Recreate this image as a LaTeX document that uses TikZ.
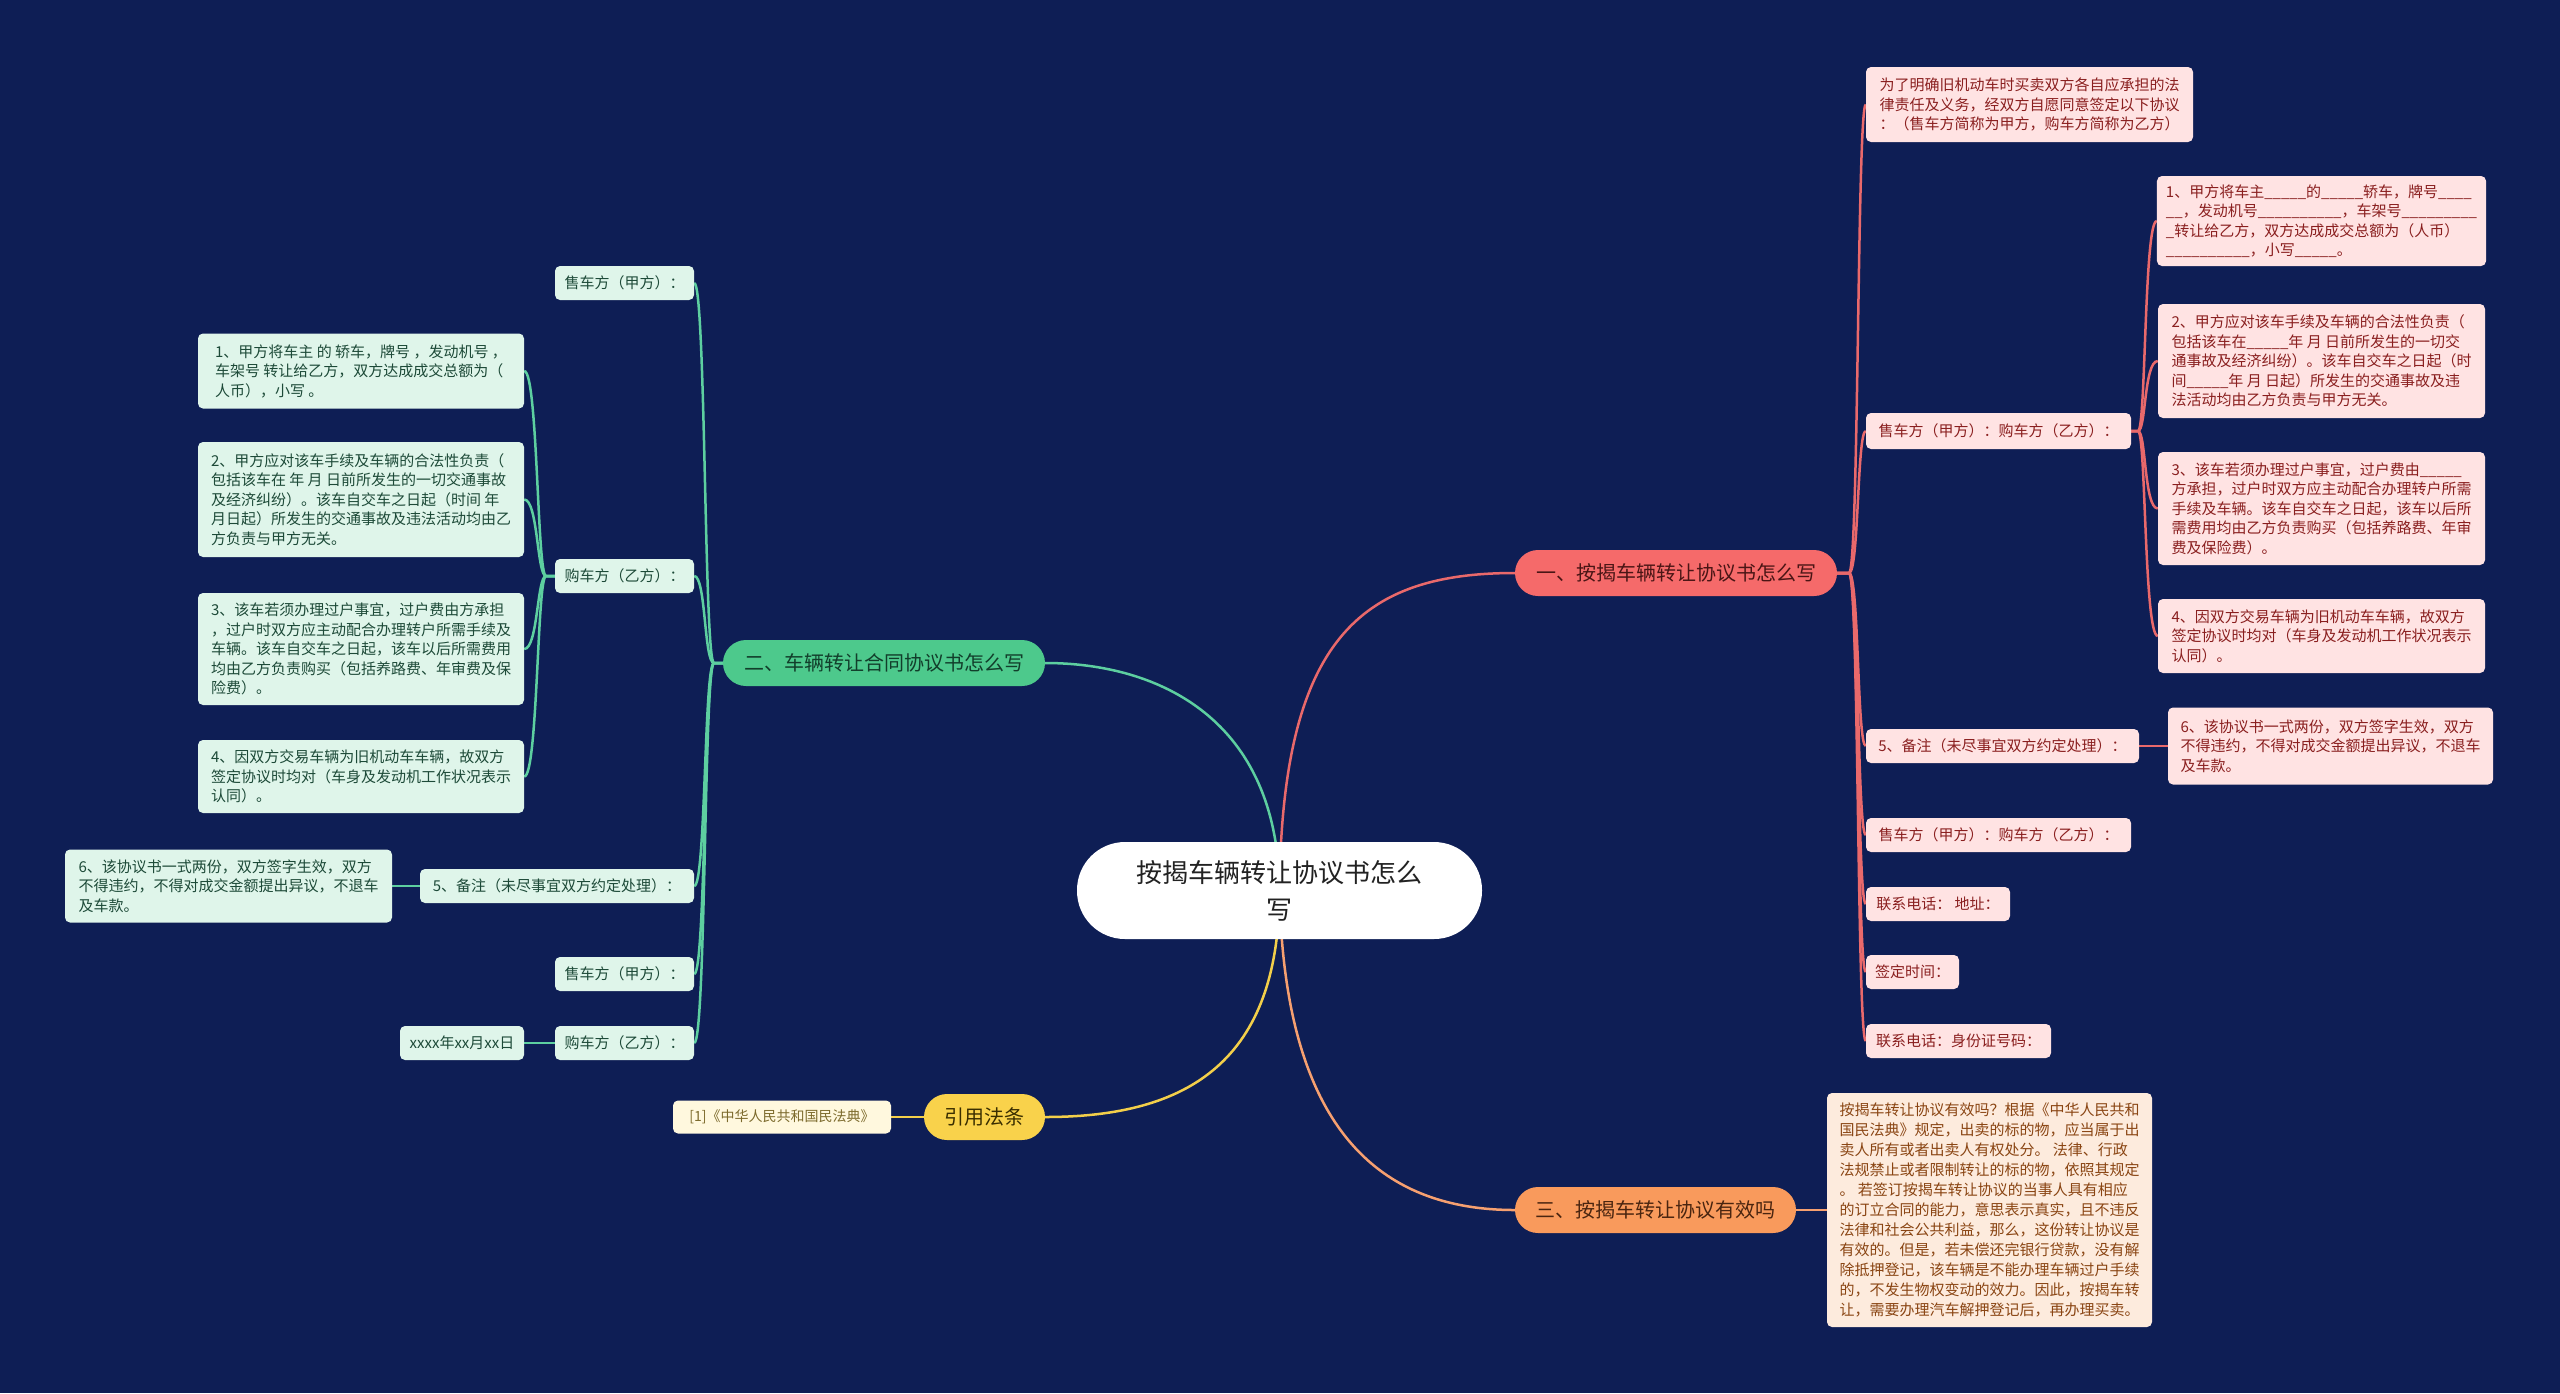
\documentclass[tikz,border=0pt]{standalone}
\usepackage{fontspec}
\setmainfont{Noto Sans CJK SC}
\definecolor{bgc}{HTML}{0E1E55}
\definecolor{redfill}{HTML}{F56A6A}
\definecolor{redline}{HTML}{E9696B}
\definecolor{redleaf}{HTML}{FFE3E3}
\definecolor{redtext}{HTML}{8A1F1F}
\definecolor{redbtext}{HTML}{4A1515}
\definecolor{greenfill}{HTML}{4DC98C}
\definecolor{greenline}{HTML}{5DCFA0}
\definecolor{greenleaf}{HTML}{DFF5EA}
\definecolor{greentext}{HTML}{1D4A38}
\definecolor{greenbtext}{HTML}{123E2B}
\definecolor{orangefill}{HTML}{F99A5C}
\definecolor{orangeline}{HTML}{F6A070}
\definecolor{orangeleaf}{HTML}{FDEBDD}
\definecolor{orangetext}{HTML}{8A4513}
\definecolor{orangebtext}{HTML}{4A2510}
\definecolor{yellowfill}{HTML}{F9D24B}
\definecolor{yellowline}{HTML}{F3CF4A}
\definecolor{yellowleaf}{HTML}{FFF8DE}
\definecolor{yellowtext}{HTML}{7C6A2C}
\definecolor{yellowbtext}{HTML}{3A2E00}
\definecolor{centertext}{HTML}{222222}
\pgfdeclarelayer{bgl}
\pgfdeclarelayer{lines}
\pgfsetlayers{bgl,lines,main}
\tikzset{
  lf/.style={rounded corners=5pt, inner xsep=9pt, inner ysep=4pt, align=left, font=\fontsize{15}{19.5}\selectfont},
  rleaf/.style={lf, fill=redleaf, text=redtext},
  gleaf/.style={lf, fill=greenleaf, text=greentext},
  oleaf/.style={lf, fill=orangeleaf, text=orangetext, font=\fontsize{15}{20}\selectfont},
  yleaf/.style={lf, fill=yellowleaf, text=yellowtext, font=\fontsize{14}{18}\selectfont},
  brnode/.style={rounded corners=23pt, minimum height=46pt, inner sep=0pt, align=center, font=\fontsize{20}{24}\selectfont},
  rl/.style={draw=redline, line width=2.5pt},
  gl/.style={draw=greenline, line width=2.5pt},
  ol/.style={draw=orangeline, line width=2.5pt},
  yl/.style={draw=yellowline, line width=2.5pt},
}
\begin{document}
\begin{tikzpicture}[x=1pt,y=-1pt]
\useasboundingbox (0,0) rectangle (2560,1393);
\begin{pgfonlayer}{bgl}
\fill[bgc] (0,0) rectangle (2560,1393);
\end{pgfonlayer}

% center
\node[fill=white, rounded corners=48pt, minimum width=405pt, minimum height=97pt, align=center, text=centertext, font=\fontsize{26}{37}\selectfont] (C) at (1279.5,890.5) {按揭车辆转让协议书怎么\\写};

% branches
\node[brnode, fill=redfill, text=redbtext, minimum width=322pt] (B1) at (1676,573) {一、按揭车辆转让协议书怎么写};
\node[brnode, fill=greenfill, text=greenbtext, minimum width=322pt] (B2) at (884,663) {二、车辆转让合同协议书怎么写};
\node[brnode, fill=orangefill, text=orangebtext, minimum width=281pt] (B3) at (1655.5,1210) {三、按揭车转让协议有效吗};
\node[brnode, fill=yellowfill, text=yellowbtext, minimum width=121pt] (B4) at (984.5,1117) {引用法条};

% red leaves
\node[rleaf, minimum width=327pt, minimum height=75pt] (A) at (2029.5,104.5) {为了明确旧机动车时买卖双方各自应承担的法\\律责任及义务，经双方自愿同意签定以下协议\\：（售车方简称为甲方，购车方简称为乙方）};
\node[rleaf, minimum width=265pt, minimum height=36pt] (B) at (1998.5,431) {售车方（甲方）：购车方（乙方）：};
\node[rleaf, minimum width=327pt, minimum height=90pt] (C1) at (2321.5,221) {1、甲方将车主\_\_\_\_\_的\_\_\_\_\_轿车，牌号\_\_\_\_\\\_\_，发动机号\_\_\_\_\_\_\_\_\_\_，车架号\_\_\_\_\_\_\_\_\_\\\_转让给乙方，双方达成成交总额为（人币）\\\_\_\_\_\_\_\_\_\_\_，小写\_\_\_\_\_。};
\node[rleaf, minimum width=327pt, minimum height=114pt] (C2) at (2321.5,361) {2、甲方应对该车手续及车辆的合法性负责（\\包括该车在\_\_\_\_\_年 月 日前所发生的一切交\\通事故及经济纠纷）。该车自交车之日起（时\\间\_\_\_\_\_年 月 日起）所发生的交通事故及违\\法活动均由乙方负责与甲方无关。};
\node[rleaf, minimum width=327pt, minimum height=113pt] (C3) at (2321.5,508.5) {3、该车若须办理过户事宜，过户费由\_\_\_\_\_\\方承担，过户时双方应主动配合办理转户所需\\手续及车辆。该车自交车之日起，该车以后所\\需费用均由乙方负责购买（包括养路费、年审\\费及保险费）。};
\node[rleaf, minimum width=327pt, minimum height=74pt] (C4) at (2321.5,636) {4、因双方交易车辆为旧机动车车辆，故双方\\签定协议时均对（车身及发动机工作状况表示\\认同）。};
\node[rleaf, minimum width=273pt, minimum height=34pt] (D) at (2002.5,746) {5、备注（未尽事宜双方约定处理）：};
\node[rleaf, minimum width=325pt, minimum height=77pt] (R6) at (2330.5,746) {6、该协议书一式两份，双方签字生效，双方\\不得违约，不得对成交金额提出异议，不退车\\及车款。};
\node[rleaf, minimum width=265pt, minimum height=34pt] (E) at (1998.5,835) {售车方（甲方）：购车方（乙方）：};
\node[rleaf, minimum width=144pt, minimum height=34pt] (F) at (1938,904) {联系电话： 地址：};
\node[rleaf, minimum width=93pt, minimum height=34pt] (G) at (1912.5,972) {签定时间：};
\node[rleaf, minimum width=185pt, minimum height=34pt] (H) at (1958.5,1041) {联系电话：身份证号码：};

% orange leaf
\node[oleaf, minimum width=325pt, minimum height=234pt] (OL) at (1989.5,1210) {按揭车转让协议有效吗？根据《中华人民共和\\国民法典》规定，出卖的标的物，应当属于出\\卖人所有或者出卖人有权处分。 法律、行政\\法规禁止或者限制转让的标的物，依照其规定\\。 若签订按揭车转让协议的当事人具有相应\\的订立合同的能力，意思表示真实，且不违反\\法律和社会公共利益，那么，这份转让协议是\\有效的。但是，若未偿还完银行贷款，没有解\\除抵押登记，该车辆是不能办理车辆过户手续\\的，不发生物权变动的效力。因此，按揭车转\\让，需要办理汽车解押登记后，再办理买卖。};

% yellow leaf
\node[yleaf, minimum width=218pt, minimum height=33pt] (YL) at (782,1117) {[1]《中华人民共和国民法典》};

% green leaves
\node[gleaf, minimum width=139pt, minimum height=34pt] (S1) at (624.5,283) {售车方（甲方）：};
\node[gleaf, minimum width=139pt, minimum height=34pt] (P1) at (624.5,576) {购车方（乙方）：};
\node[gleaf, minimum width=326pt, minimum height=75pt] (G1) at (361,371) {1、甲方将车主 的 轿车，牌号 ，发动机号 ，\\车架号 转让给乙方，双方达成成交总额为（\\人币），小写 。};
\node[gleaf, minimum width=326pt, minimum height=115pt] (G2) at (361,499.5) {2、甲方应对该车手续及车辆的合法性负责（\\包括该车在 年 月 日前所发生的一切交通事故\\及经济纠纷）。该车自交车之日起（时间 年\\月日起）所发生的交通事故及违法活动均由乙\\方负责与甲方无关。};
\node[gleaf, minimum width=326pt, minimum height=112pt] (G3) at (361,649) {3、该车若须办理过户事宜，过户费由方承担\\，过户时双方应主动配合办理转户所需手续及\\车辆。该车自交车之日起，该车以后所需费用\\均由乙方负责购买（包括养路费、年审费及保\\险费）。};
\node[gleaf, minimum width=326pt, minimum height=73pt] (G4) at (361,776.5) {4、因双方交易车辆为旧机动车车辆，故双方\\签定协议时均对（车身及发动机工作状况表示\\认同）。};
\node[gleaf, minimum width=274pt, minimum height=34pt] (N5) at (557,886) {5、备注（未尽事宜双方约定处理）：};
\node[gleaf, minimum width=327pt, minimum height=73pt] (L6) at (228.5,886) {6、该协议书一式两份，双方签字生效，双方\\不得违约，不得对成交金额提出异议，不退车\\及车款。};
\node[gleaf, minimum width=139pt, minimum height=34pt] (S2) at (624.5,974) {售车方（甲方）：};
\node[gleaf, minimum width=139pt, minimum height=34pt] (P2) at (624.5,1043) {购车方（乙方）：};
\node[gleaf, minimum width=124pt, minimum height=34pt] (DT) at (462,1043) {xxxx年xx月xx日};

% trunk reference coordinates
\coordinate (rt) at (1857,0);
\coordinate (rs) at (2144,0);
\coordinate (gt) at (706,0);
\coordinate (gs) at (538,0);

\begin{pgfonlayer}{lines}
% center to branches
\draw[rl] (C.center) .. controls (1282,640) and (1360,573) .. (B1.west);
\draw[gl] (C.center) .. controls (1278,720) and (1160,663) .. (B2.east);
\draw[ol] (C.center) .. controls (1284,1130) and (1380,1210) .. (B3.west);
\draw[yl] (C.center) .. controls (1279,1060) and (1190,1117) .. (B4.east);

% red trunk
\foreach \n in {A,B,D,E,F,G,H}{
  \draw[rl] (B1.east) -- (1849,573) .. controls (1859,573) and (\n.west -| rt) .. (\n.west);
}
\foreach \n in {C1,C2,C3,C4}{
  \draw[rl] (B.east) -- (2138,431) .. controls (2146,431) and (\n.west -| rs) .. (\n.west);
}
\draw[rl] (D.east) -- (R6.west);
% orange
\draw[ol] (B3.east) -- (OL.west);
% yellow
\draw[yl] (B4.west) -- (YL.east);
% green trunk
\foreach \n in {S1,P1,N5,S2,P2}{
  \draw[gl] (B2.west) -- (714,663) .. controls (704,663) and (\n.east -| gt) .. (\n.east);
}
\foreach \n in {G1,G2,G3,G4}{
  \draw[gl] (P1.west) -- (546,576) .. controls (537,576) and (\n.east -| gs) .. (\n.east);
}
\draw[gl] (N5.west) -- (L6.east);
\draw[gl] (P2.west) -- (DT.east);
\end{pgfonlayer}
\end{tikzpicture}
\end{document}
